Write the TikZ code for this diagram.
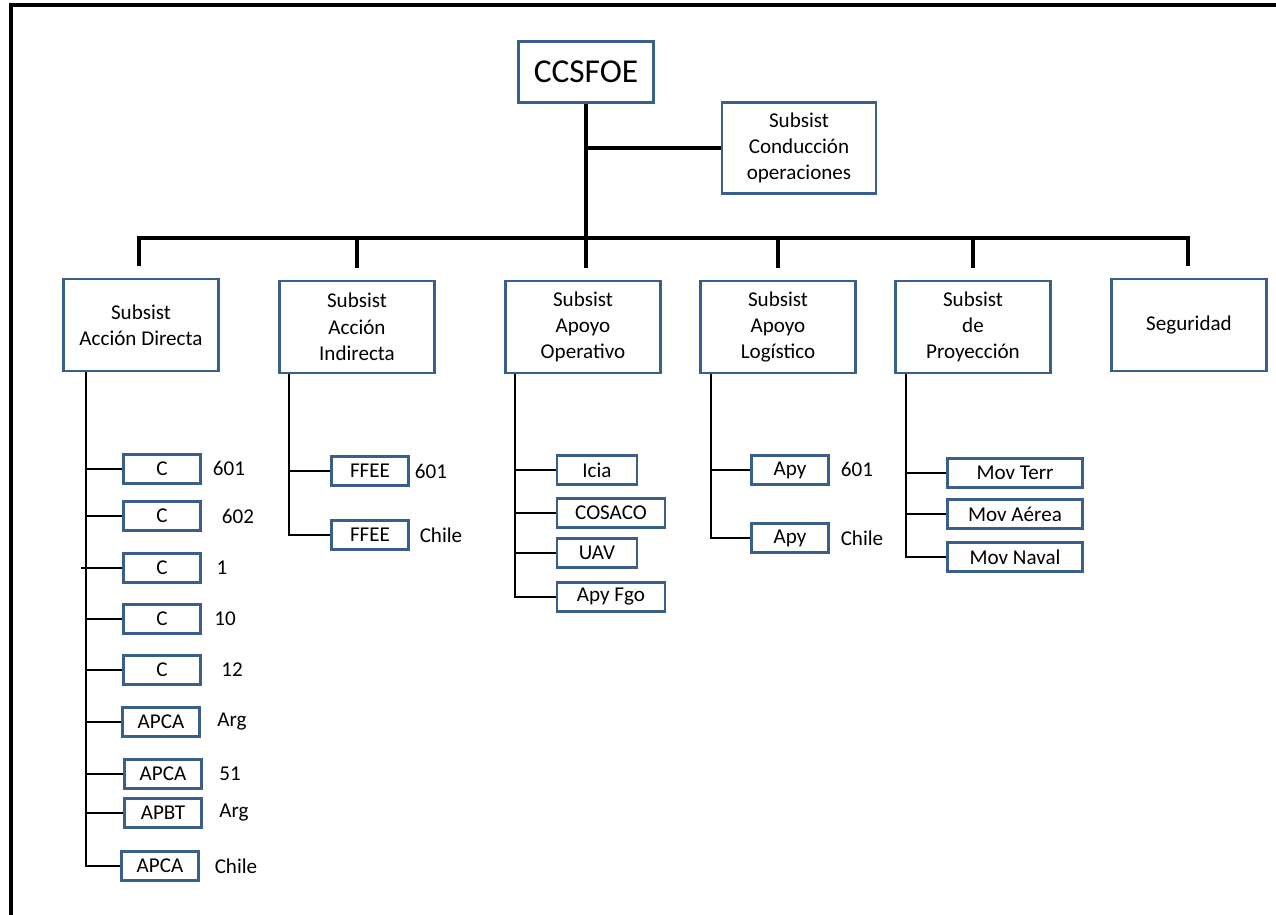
\documentclass[tikz,border=0pt]{standalone}
\usepackage{fontspec}
\setmainfont{Carlito}
\definecolor{boxblue}{RGB}{58,95,140}
\tikzset{
  unitbox/.style={draw=boxblue,line width=1.6pt,inner sep=0pt,align=center,
    font=\fontsize{12}{15}\selectfont},
  topunit/.style={unitbox,minimum width=3.1cm,minimum height=1.84cm},
  subunit/.style={unitbox,minimum width=1.54cm,minimum height=0.58cm},
  tagtext/.style={inner sep=0pt,font=\fontsize{12}{15}\selectfont},
  trunk/.style={line width=1.8pt},
  twig/.style={line width=1.3pt},
}
\begin{document}
\begin{tikzpicture}[x=0.02cm,y=-0.02cm]
  \useasboundingbox (0,0) rectangle (1276,915);
  \draw[trunk] (11,915) -- (11,5) -- (1276,5);

  \begin{scope}[every node/.style={unitbox}]
    \node[minimum width=2.7cm,minimum height=1.22cm,font=\fontsize{19}{23}\selectfont]
      (ccsfoe) at (586,72) {CCSFOE};
    \node[minimum width=3.08cm,minimum height=1.82cm] (cond) at (799,148)
      {Subsist\\Conducción\\operaciones};

    \node[topunit] (ad) at (141,325) {Subsist\\Acción Directa};
    \node[topunit] (ai) at (357,327) {Subsist\\Acción\\Indirecta};
    \node[topunit] (ao) at (583,327) {Subsist\\Apoyo\\Operativo};
    \node[topunit] (al) at (778,327) {Subsist\\Apoyo\\Logístico};
    \node[topunit] (pr) at (973,327) {Subsist\\de\\Proyección};
    \node[topunit] (sg) at (1189,325) {Seguridad};

    \node[subunit] (ad1) at (162,469) {C};
    \node[subunit] (ad2) at (162,516) {C};
    \node[subunit] (ad3) at (162,568) {C};
    \node[subunit] (ad4) at (162,619) {C};
    \node[subunit] (ad5) at (162,670) {C};
    \node[subunit] (ad6) at (161,722) {APCA};
    \node[subunit] (ad7) at (163,774) {APCA};
    \node[subunit] (ad8) at (163,813) {APBT};
    \node[subunit] (ad9) at (160,866) {APCA};

    \node[subunit] (ai1) at (370,471) {FFEE};
    \node[subunit] (ai2) at (370,535) {FFEE};

    \node[subunit,minimum width=1.6cm] (ao1) at (597,470) {Icia};
    \node[subunit,minimum width=2.16cm] (ao2) at (611,513) {COSACO};
    \node[subunit,minimum width=1.6cm] (ao3) at (597,553) {UAV};
    \node[subunit,minimum width=2.16cm] (ao4) at (611,597) {Apy Fgo};

    \node[subunit] (al1) at (790,470) {Apy};
    \node[subunit] (al2) at (790,538) {Apy};

    \node[subunit,minimum width=2.7cm] (pr1) at (1015,473) {Mov Terr};
    \node[subunit,minimum width=2.7cm] (pr2) at (1015,514) {Mov Aérea};
    \node[subunit,minimum width=2.7cm] (pr3) at (1015,557) {Mov Naval};
  \end{scope}

  \begin{scope}[every node/.style={tagtext}]
    \node (ad1n) at (229,468) {601};
    \node (ad2n) at (238,516) {602};
    \node (ad3n) at (222,568) {1};
    \node (ad4n) at (225,619) {10};
    \node (ad5n) at (232,670) {12};
    \node (ad6n) at (232,722) {Arg};
    \node (ad7n) at (230,774) {51};
    \node (ad8n) at (234,813) {Arg};
    \node (ad9n) at (236,866) {Chile};
    \node (ai1n) at (431,471) {601};
    \node (ai2n) at (441,535) {Chile};
    \node (al1n) at (857,469) {601};
    \node (al2n) at (862,538) {Chile};
  \end{scope}

  % top of the chart
  \coordinate (bus) at (587,238);
  \draw[trunk] (ccsfoe.south) -- ([yshift=0.24cm]ao.north -| ccsfoe.south);
  \draw[trunk] (ccsfoe.south |- cond.west) -- (cond.west);
  \draw[trunk] ([yshift=0.24cm,xshift=-0.04cm]ad.north) |- (bus)
    -| ([yshift=0.24cm,xshift=-0.02cm]sg.north);
  \foreach \n in {ai,al,pr}
    \draw[trunk] ([yshift=0.24cm]\n.north) -- (\n.north |- bus);

  % branches
  \coordinate (adk) at ([xshift=0.48cm]ad.south west);
  \coordinate (aik) at ([xshift=0.22cm]ai.south west);
  \coordinate (aok) at ([xshift=0.22cm]ao.south west);
  \coordinate (alk) at ([xshift=0.24cm]al.south west);
  \coordinate (prk) at ([xshift=0.24cm]pr.south west);

  \draw[twig] (adk) |- (ad9.west);
  \foreach \c in {ad1,ad2,ad4,ad5,ad6,ad7,ad8}
    \draw[twig] (adk |- \c.west) -- (\c.west);
  \draw[twig] ([xshift=-0.1cm]adk |- ad3.west) -- (ad3.west);

  \draw[twig] (aik) |- (ai2.west);
  \draw[twig] (aik |- ai1.west) -- (ai1.west);

  \draw[twig] (aok) |- (ao4.west);
  \foreach \c in {ao1,ao2,ao3}
    \draw[twig] (aok |- \c.west) -- (\c.west);

  \draw[twig] (alk) |- (al2.west);
  \draw[twig] (alk |- al1.west) -- (al1.west);

  \draw[twig] (prk) |- (pr3.west);
  \foreach \c in {pr1,pr2}
    \draw[twig] (prk |- \c.west) -- (\c.west);
\end{tikzpicture}
\end{document}
